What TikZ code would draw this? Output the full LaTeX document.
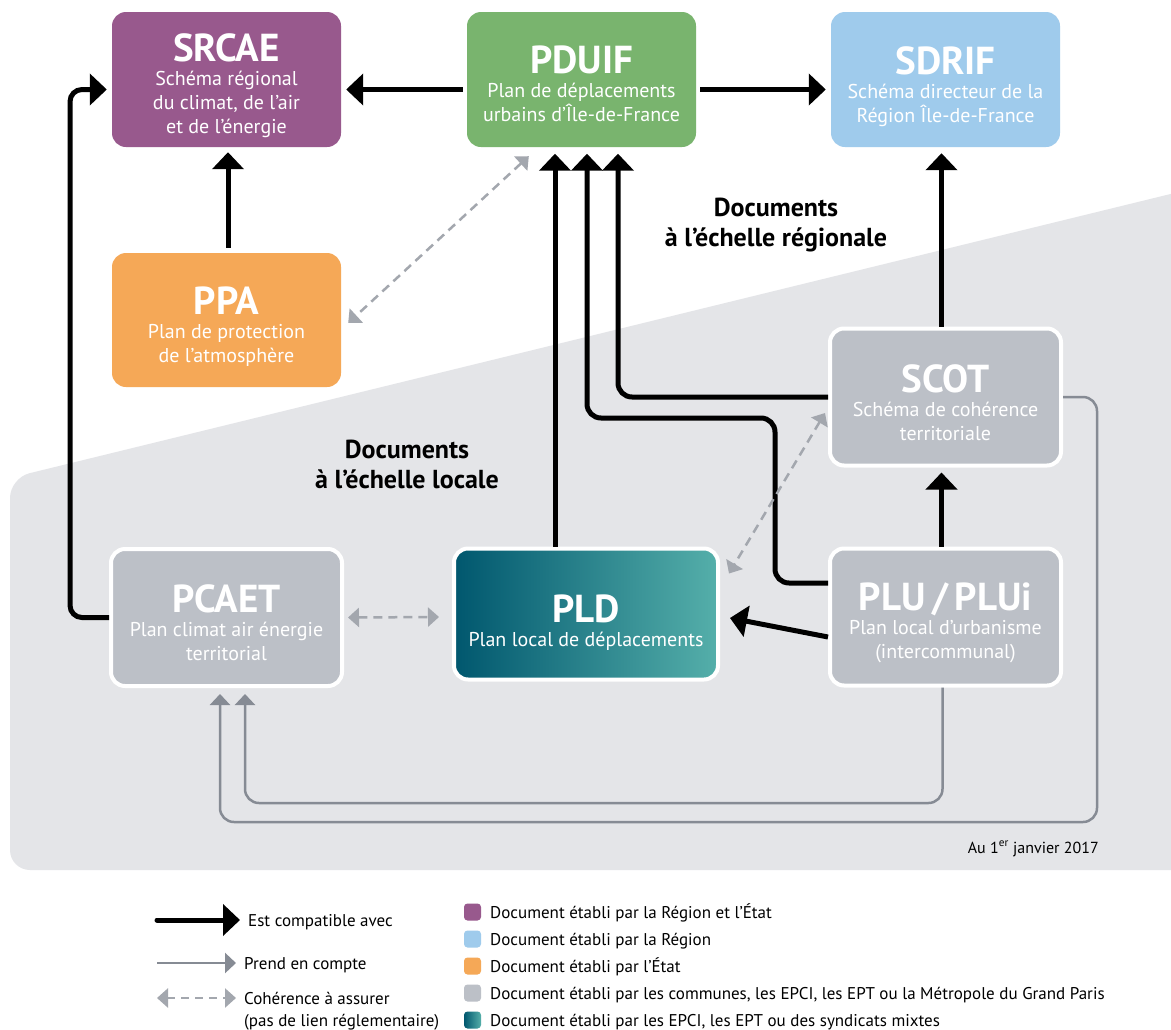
\documentclass[tikz,border=0pt]{standalone}
\usepackage{fontspec}
\setmainfont{PT Sans}
\usetikzlibrary{arrows.meta,calc}
\definecolor{cPurple}{HTML}{98598D}
\definecolor{cGreen}{HTML}{79B46E}
\definecolor{cBlue}{HTML}{9FCBEC}
\definecolor{cOrange}{HTML}{F5A857}
\definecolor{cGray}{HTML}{BCC0C7}
\definecolor{cBg}{HTML}{E4E5E8}
\definecolor{cTealL}{HTML}{00576E}
\definecolor{cTealR}{HTML}{55AFAA}
\definecolor{cArrGray}{HTML}{868B94}
\definecolor{cDash}{HTML}{A3A7AE}
\newcommand{\boxtitle}{\fontsize{39}{39}\selectfont\bfseries}
\begin{document}
\begin{tikzpicture}[x=1pt,y=-1pt,
  box/.style={rounded corners=14pt, inner sep=0pt, minimum width=229pt, minimum height=135pt},
  locbox/.style={rounded corners=14pt, inner sep=0pt, draw=white, line width=4pt, fill=cGray, minimum width=231pt, minimum height=137pt},
  boxtext/.style={anchor=north, inner sep=0pt, align=center, text=white, font=\fontsize{20}{24}\selectfont},
  compat/.style={line width=5pt, -{Triangle[length=17pt,width=31pt]}},
  prend/.style={line width=2.5pt, draw=cArrGray, -{Triangle[length=11pt,width=20pt]}},
  cohe/.style={line width=2.5pt, draw=cDash, dash pattern=on 9pt off 6pt, {Triangle[length=11pt,width=19pt]}-{Triangle[length=11pt,width=19pt]}},
  region/.style={align=center, inner sep=0pt, font=\fontsize{26}{30}\selectfont\bfseries},
  legtext/.style={anchor=base west, inner sep=0pt, font=\fontsize{17}{20}\selectfont},
  legsq/.style={rounded corners=3.5pt, minimum size=17pt, inner sep=0pt}
]
\useasboundingbox (0,0) rectangle (1171,1029);
\fill[white] (0,0) rectangle (1171,1029);
% background region
\fill[cBg, rounded corners=20pt] (1200,186.8) -- (10,478) -- (10,870) -- (1200,870) -- cycle;

% boxes
\node[box, fill=cPurple] (SRCAE) at (226.5,79.5) {};
\node[boxtext] (SRCAEt) at (226.5,33) {{\boxtitle SRCAE}\\Schéma régional\\du climat, de l’air\\et de l’énergie};
\node[box, fill=cGreen] (PDUIF) at (581.5,79.5) {};
\node[boxtext] (PDUIFt) at (581.5,46) {{\boxtitle PDUIF}\\Plan de déplacements\\urbains d’Île-de-France};
\node[box, fill=cBlue] (SDRIF) at (945.5,79.5) {};
\node[boxtext] (SDRIFt) at (945.5,46) {{\boxtitle SDRIF}\\Schéma directeur de la\\Région Île-de-France};
\node[box, fill=cOrange, minimum height=134pt] (PPA) at (226.5,320) {};
\node[boxtext] (PPAt) at (226.5,287) {{\boxtitle PPA}\\Plan de protection\\de l’atmosphère};
\node[locbox] (SCOT) at (945.5,397) {};
\node[boxtext] (SCOTt) at (945.5,364) {{\boxtitle SCOT}\\Schéma de cohérence\\territoriale};
\node[locbox] (PCAET) at (226.5,617.5) {};
\node[boxtext] (PCAETt) at (226.5,584) {{\boxtitle PCAET}\\Plan climat air énergie\\territorial};
\node[rounded corners=14pt, inner sep=0pt, draw=white, line width=4pt, left color=cTealL, right color=cTealR, minimum width=264pt, minimum height=131pt] (PLD) at (586,614) {};
\node[boxtext] (PLDt) at (586,595) {{\boxtitle PLD}\\Plan local de déplacements};
\node[locbox] (PLU) at (945.5,617) {};
\node[boxtext] (PLUt) at (945.5,583) {{\boxtitle PLU\,/\,PLUi}\\Plan local d’urbanisme\\(intercommunal)};

% region labels
\node[region] (regR) at (776,225) {Documents\\à l’échelle régionale};
\node[region] (regL) at (407,464) {Documents\\à l’échelle locale};
\node[anchor=base east, inner sep=0pt, font=\fontsize{16}{18}\selectfont] (date) at (1099,853) {Au 1\textsuperscript{er} janvier 2017};

% compatible arrows
\draw[compat] ($(PDUIF.west)+(-4,10)$) -- ($(SRCAE.east)+(5,10)$);
\draw[compat] ($(PDUIF.east)+(4,10)$) -- ($(SDRIF.west)+(-5,10)$);
\draw[compat] ($(PPA.north)+(1.5,-5)$) -- ($(SRCAE.south)+(1.5,5)$);
\draw[compat, rounded corners=12pt] (PCAET.west) -| (70,89.5) -- ($(SRCAE.west)+(-5,10)$);
\draw[compat] ($(PLD.north)+(-31,0)$) -- ($(PDUIF.south)+(-26.5,6.5)$);
\draw[compat, rounded corners=14pt] ($(PLU.west)+(0,-34)$) -| (775,418) -| ($(PDUIF.south)+(5.5,6.5)$);
\draw[compat, rounded corners=14pt] (SCOT.west) -| ($(PDUIF.south)+(36.5,6.5)$);
\draw[compat] ($(SCOT.north)+(-4,0)$) -- ($(SDRIF.south)+(-4,6)$);
\draw[compat] ($(PLU.north)+(-4,0)$) -- ($(SCOT.south)+(-4,5)$);
\draw[compat] ($(PLU.west)+(0,20)$) -- ($(PLD.east)+(10,4)$);

% prend en compte
\draw[prend, rounded corners=14pt] ($(PLU.south)+(-3,0)$) |- (245,803) -- ($(PCAET.south)+(18.5,6)$);
\draw[prend, rounded corners=14pt] (SCOT.east) -| (1097,822) -| ($(PCAET.south)+(-6.5,6)$);

% coherence
\draw[cohe] ($(PDUIF.south west)+(62,9)$) -- ($(PPA.east)+(7,3)$);
\draw[cohe] ($(PCAET.east)+(4,0)$) -- ($(PLD.west)+(-13,3)$);
\draw[cohe] ($(SCOT.west)+(-3,16)$) -- ($(PLD.north east)+(9,27)$);

% legend arrows
\coordinate (lgA1) at (157,920); \coordinate (lgA2) at (240,920);
\draw[compat, line cap=round] (lgA1) -- (lgA2);
\node[legtext] (lgT1) at (248,926) {Est compatible avec};
\coordinate (lgB1) at (157,963); \coordinate (lgB2) at (236,963);
\draw[prend] (lgB1) -- (lgB2);
\node[legtext] (lgT2) at (244,969) {Prend en compte};
\coordinate (lgC1) at (157,998); \coordinate (lgC2) at (236,998);
\draw[cohe, dash pattern=on 8pt off 6pt] (lgC1) -- (lgC2);
\node[legtext] (lgT3) at (244,1004) {Cohérence à assurer};
\node[legtext] (lgT4) at (244,1026) {(pas de lien réglementaire)};

% legend squares
\node[legsq, fill=cPurple] (sq1) at (472.5,912) {};
\node[legtext] (sqT1) at (490,918) {Document établi par la Région et l’État};
\node[legsq, fill=cBlue] (sq2) at (472.5,939) {};
\node[legtext] (sqT2) at (490,945) {Document établi par la Région};
\node[legsq, fill=cOrange] (sq3) at (472.5,966) {};
\node[legtext] (sqT3) at (490,972) {Document établi par l’État};
\node[legsq, fill=cGray] (sq4) at (472.5,993) {};
\node[legtext] (sqT4) at (490,999) {Document établi par les communes, les EPCI, les EPT ou la Métropole du Grand Paris};
\node[legsq, left color=cTealL, right color=cTealR] (sq5) at (472.5,1020) {};
\node[legtext] (sqT5) at (490,1026) {Document établi par les EPCI, les EPT ou des syndicats mixtes};
\end{tikzpicture}
\end{document}
